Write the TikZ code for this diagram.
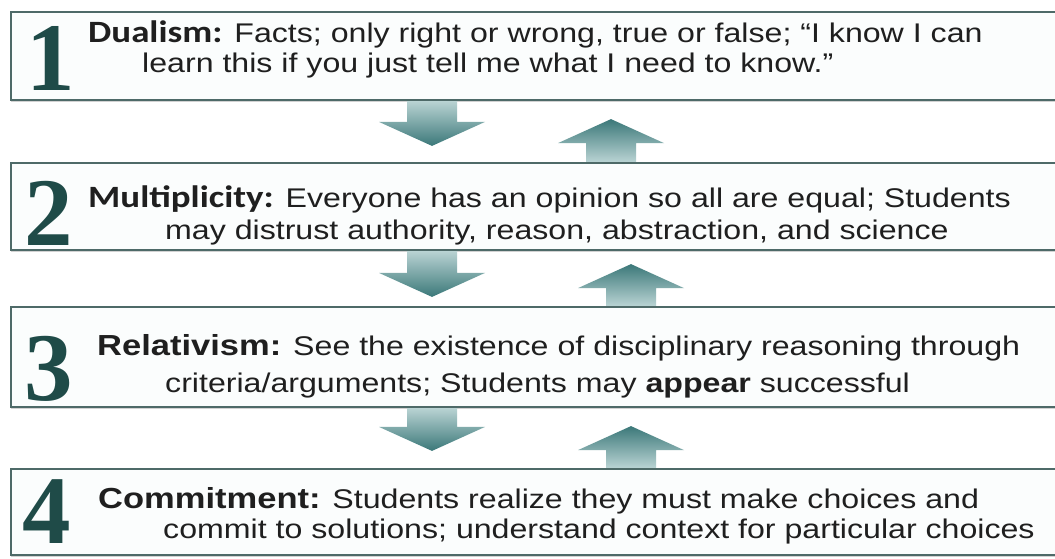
\documentclass[tikz,border=0pt]{standalone}
\usepackage{fontspec}
\setmainfont{Liberation Sans}[FakeStretch=1.19]
\newfontfamily\numfont{Liberation Serif}
\newfontfamily\labelfont{Carlito}[FakeStretch=1.19]
\usetikzlibrary{calc,shadows}

\definecolor{frame}{HTML}{4E6A68}
\definecolor{numteal}{HTML}{1F4B48}
\definecolor{arrowdark}{HTML}{3B7879}
\definecolor{arrowlight}{HTML}{B9D3D3}
\definecolor{boxfill}{HTML}{FBFDFD}

% block arrow between two points on one vertical
\newcommand{\flowarrow}[3]{%
  \path[#1] let \p1=(#2), \p2=(#3), \n1={(\y2>\y1) ? \y2-24 : \y2+24} in
    (\x1-25,\y1) -- (\x1-25,\n1) -- (\x1-53,\n1) -- (\x2,\y2)
    -- (\x1+53,\n1) -- (\x1+25,\n1) -- (\x1+25,\y1) -- cycle;}

\begin{document}
\begin{tikzpicture}[x=1pt,y=-1pt]
\tikzset{stage/.style = {draw=frame,line width=2.2pt,fill=boxfill,minimum width=1051pt,
  inner sep=0pt,drop shadow={shadow xshift=0pt,shadow yshift=-2pt,opacity=0.35}}}
\tikzset{stagenum/.style = {anchor=base west,inner sep=0pt,text=numteal,
  font=\numfont\bfseries\fontsize{97}{97}\selectfont}}
\tikzset{stagetext/.style = {anchor=base west,inner sep=0pt,text=black!88,
  font=\fontsize{27}{30}\selectfont}}
\tikzset{flowdown/.style = {top color=arrowlight,bottom color=arrowdark}}
\tikzset{flowup/.style = {top color=arrowdark,bottom color=arrowlight}}
\useasboundingbox (0,0) rectangle (1055,558);
\fill[white] (0,0) rectangle (1055,558);
% the four stages
\node[stage,minimum height=88pt] (s1) at (536.5,56) {};
\node[stage,minimum height=87pt] (s2) at (536.5,206.5) {};
\node[stage,minimum height=100pt] (s3) at (536.5,357) {};
\node[stage,minimum height=86pt] (s4) at (536.5,512) {};
% stage numbers
\node[stagenum] (n1) at (26,90) {1};
\node[stagenum] (n2) at (24,245) {2};
\node[stagenum] (n3) at (24,400) {3};
\node[stagenum] (n4) at (22,543) {4};
% stage texts
\node[stagetext] (t1a) at (88,42) {{\labelfont\bfseries\fontsize{31}{30}\selectfont Dualism:} Facts; only right or wrong, true or false; “I know I can};
\node[stagetext] (t1b) at (142,72) {learn this if you just tell me what I need to know.”};
\node[stagetext] (t2a) at (88,207) {{\labelfont\bfseries\fontsize{31}{30}\selectfont Multiplicity:} Everyone has an opinion so all are equal; Students};
\node[stagetext] (t2b) at (165,239) {may distrust authority, reason, abstraction, and science};
\node[stagetext] (t3a) at (97,355) {{\bfseries\fontsize{29}{30}\selectfont Relativism:} See the existence of disciplinary reasoning through};
\node[stagetext] (t3b) at (165,392) {criteria/arguments; Students may \textbf{appear} successful};
\node[stagetext] (t4a) at (98,508) {{\bfseries\fontsize{29}{30}\selectfont Commitment:} Students realize they must make choices and};
\node[stagetext] (t4b) at (163,538) {commit to solutions; understand context for particular choices};
% arrows between the stages
\coordinate (dx) at (432,0);
\coordinate (ux) at (611,0);
\coordinate (vx) at (631,0);
\flowarrow{flowdown}{s1.south -| dx}{$(s2.north -| dx)+(0,-16)$}
\flowarrow{flowup}{s2.north -| ux}{$(s1.south -| ux)+(0,18)$}
\flowarrow{flowdown}{s2.south -| dx}{$(s3.north -| dx)+(0,-9)$}
\flowarrow{flowup}{s3.north -| vx}{$(s2.south -| vx)+(0,13)$}
\flowarrow{flowdown}{s3.south -| dx}{$(s4.north -| dx)+(0,-17)$}
\flowarrow{flowup}{s4.north -| vx}{$(s3.south -| vx)+(0,18)$}
\end{tikzpicture}
\end{document}
